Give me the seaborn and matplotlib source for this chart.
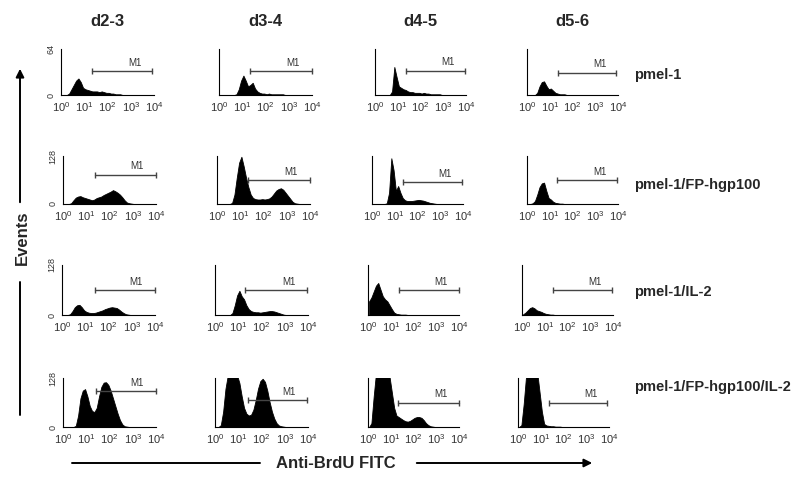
import numpy as np
import matplotlib
matplotlib.use("Agg")
from matplotlib import pyplot as plt
import seaborn as sns

# Column / row headers
DAYS = ["d2-3", "d3-4", "d4-5", "d5-6"]
GROUPS = ["pmel-1", "pmel-1/FP-hgp100", "pmel-1/IL-2", "pmel-1/FP-hgp100/IL-2"]
Y_MAX = [64, 128, 128, 128]
X_TICK_LABELS = [r"$\mathregular{10^{0}}$", r"$\mathregular{10^{1}}$", r"$\mathregular{10^{2}}$",
                 r"$\mathregular{10^{3}}$", r"$\mathregular{10^{4}}$"]

# Histogram counts, 40 bins of 0.1 decade from 10^0 to 10^4
pmel1_d23 = [0, 0, 0, 2, 8, 14, 20, 23, 18, 10, 8, 7, 6, 5, 5, 5, 4, 5, 4, 3,
             3, 2, 2, 1, 1, 1, 0, 0, 0, 0, 0, 0, 0, 0, 0, 0, 0, 0, 0, 0]
pmel1_d34 = [0, 0, 0, 0, 0, 0, 0, 1, 8, 20, 27, 20, 12, 14, 17, 9, 5, 3, 2, 2,
             1, 2, 1, 1, 1, 1, 1, 1, 0, 0, 0, 0, 0, 0, 0, 0, 0, 0, 0, 0]
pmel1_d45 = [0, 0, 0, 0, 0, 0, 0, 5, 39, 25, 12, 10, 8, 7, 5, 4, 4, 3, 3, 3,
             2, 3, 2, 2, 1, 1, 1, 1, 1, 0, 0, 0, 0, 0, 0, 0, 0, 0, 0, 0]
pmel1_d56 = [0, 0, 0, 0, 3, 12, 18, 19, 13, 8, 9, 6, 3, 2, 1, 1, 1, 0, 0, 0,
             0, 0, 0, 0, 0, 0, 0, 0, 0, 0, 0, 0, 0, 0, 0, 0, 0, 0, 0, 0]

fp_d23 = [0, 0, 0, 2, 10, 17, 20, 21, 18, 16, 14, 12, 10, 12, 16, 18, 20, 24, 27, 30,
          33, 37, 34, 30, 25, 18, 10, 4, 2, 1, 0, 0, 0, 0, 0, 0, 0, 0, 0, 0]
fp_d34 = [0, 0, 0, 0, 0, 0, 3, 25, 70, 110, 126, 100, 70, 45, 25, 16, 13, 12, 12, 13,
          12, 13, 15, 20, 28, 36, 40, 42, 38, 30, 22, 14, 6, 2, 1, 0, 0, 0, 0, 0]
fp_d45 = [0, 0, 0, 0, 0, 0, 2, 30, 122, 90, 35, 48, 30, 16, 10, 8, 8, 8, 9, 10,
          11, 10, 9, 7, 5, 3, 2, 1, 0, 0, 0, 0, 0, 0, 0, 0, 0, 0, 0, 0]
fp_d56 = [0, 0, 2, 8, 25, 45, 55, 57, 35, 16, 12, 6, 3, 2, 1, 1, 0, 0, 0, 0,
          0, 0, 0, 0, 0, 0, 0, 0, 0, 0, 0, 0, 0, 0, 0, 0, 0, 0, 0, 0]

il2_d23 = [0, 0, 0, 2, 10, 20, 25, 26, 20, 12, 8, 6, 5, 5, 6, 8, 10, 12, 15, 17,
           19, 20, 19, 18, 14, 9, 5, 2, 1, 0, 0, 0, 0, 0, 0, 0, 0, 0, 0, 0]
il2_d34 = [0, 0, 0, 0, 0, 0, 0, 5, 25, 50, 62, 48, 40, 25, 15, 10, 8, 7, 7, 6,
           7, 8, 9, 10, 10, 9, 7, 5, 3, 1, 0, 0, 0, 0, 0, 0, 0, 0, 0, 0]
il2_d45 = [35, 45, 60, 75, 82, 65, 48, 40, 35, 25, 15, 6, 3, 2, 1, 1, 1, 0, 0, 0,
           0, 0, 0, 0, 0, 0, 0, 0, 0, 0, 0, 0, 0, 0, 0, 0, 0, 0, 0, 0]
il2_d56 = [2, 6, 12, 18, 20, 17, 12, 10, 8, 5, 3, 2, 1, 1, 0, 0, 0, 0, 0, 0,
           0, 0, 0, 0, 0, 0, 0, 0, 0, 0, 0, 0, 0, 0, 0, 0, 0, 0, 0, 0]

both_d23 = [0, 0, 0, 0, 0, 3, 30, 75, 95, 99, 80, 55, 42, 39, 50, 80, 105, 116, 117, 110,
            95, 75, 55, 35, 18, 7, 2, 1, 0, 0, 0, 0, 0, 0, 0, 0, 0, 0, 0, 0]
both_d34 = [0, 0, 5, 40, 100, 135, 140, 140, 140, 135, 115, 80, 50, 35, 30, 32, 45, 70, 100, 120,
            126, 118, 95, 65, 40, 22, 10, 4, 2, 1, 0, 0, 0, 0, 0, 0, 0, 0, 0, 0]
both_d45 = [0, 10, 80, 140, 140, 140, 140, 140, 140, 130, 90, 50, 30, 26, 22, 18, 15, 14, 16, 20,
            24, 26, 26, 24, 18, 10, 5, 2, 1, 0, 0, 0, 0, 0, 0, 0, 0, 0, 0, 0]
both_d56 = [0, 5, 60, 130, 140, 140, 140, 140, 140, 90, 40, 8, 4, 3, 2, 2, 1, 1, 1, 0,
            0, 0, 0, 0, 0, 0, 0, 0, 0, 0, 0, 0, 0, 0, 0, 0, 0, 0, 0, 0]

HISTS = [
    [pmel1_d23, pmel1_d34, pmel1_d45, pmel1_d56],
    [fp_d23, fp_d34, fp_d45, fp_d56],
    [il2_d23, il2_d34, il2_d45, il2_d56],
    [both_d23, both_d34, both_d45, both_d56],
]

# M1 gate: start / end (log10) and height (counts)
GATE_START = [[1.33, 1.33, 1.35, 1.35], [1.39, 1.33, 1.35, 1.3], [1.4, 1.3, 1.36, 1.35], [1.44, 1.4, 1.3, 1.35]]
GATE_END = [[3.9, 4.0, 3.96, 3.9], [4.0, 4.0, 3.95, 3.95], [4.0, 3.95, 4.0, 3.95], [4.0, 3.95, 4.0, 3.9]]
GATE_Y = [[33, 33, 34, 31], [78, 63, 58, 63], [64, 64, 64, 64], [93, 70, 63, 63]]

# Panel layout in pixels (800 x 487 figure)
W, H = 800, 487
LEFTS = [[61, 219, 375, 527], [63, 217, 372, 527], [62, 215, 368, 522], [63, 215, 368, 518]]
WIDTHS = [93, 93, 91, 91]
TOPS = [49, 156, 265, 378]
BOTTOMS = [95, 204, 315, 427]

sns.set_style("white")
plt.rcParams["font.family"] = ["Liberation Sans", "DejaVu Sans"]
plt.rcParams["mathtext.fontset"] = "custom"
plt.rcParams["mathtext.rm"] = "Liberation Sans"

fig = plt.figure(figsize=(W / 100, H / 100), dpi=100)

centers = np.arange(40) * 0.1 + 0.05

for r in range(4):
    for c in range(4):
        x0 = LEFTS[r][c] / W
        y0 = 1 - BOTTOMS[r] / H
        ax = fig.add_axes([x0, y0, WIDTHS[c] / W, (BOTTOMS[r] - TOPS[r]) / H])
        sns.histplot(x=centers, weights=HISTS[r][c], bins=40, binrange=(0, 4),
                     element="poly", fill=True, color="black", alpha=1,
                     linewidth=0.6, ax=ax)
        ymax = Y_MAX[r]
        ax.set_xlim(0, 4)
        ax.set_ylim(0, ymax)
        ax.set(xlabel=None, ylabel=None)
        ax.set_xticks(range(5))
        ax.set_xticklabels(X_TICK_LABELS, fontsize=8, color="#333333")
        ax.set_yticks(np.linspace(0, ymax, 5))
        if c == 0:
            ax.set_yticklabels(["0", "", "", "", str(ymax)], rotation=90,
                               va="center", fontsize=6.5, color="#333333")
        else:
            ax.set_yticklabels([])
        ax.tick_params(axis="both", length=2.5, width=0.7, pad=1.5, colors="#333333")
        sns.despine(ax=ax)
        for s in ["left", "bottom"]:
            ax.spines[s].set_linewidth(0.8)
            ax.spines[s].set_color("black")

        # M1 gate
        gs, ge, gy = GATE_START[r][c], GATE_END[r][c], GATE_Y[r][c]
        ax.plot([gs, ge], [gy, gy], color="#444444", lw=1.0, marker="|",
                markersize=5, markeredgewidth=1.0, clip_on=False)
        ax.annotate("M1", xy=(3.2, gy), xytext=(0, 2.5), textcoords="offset points",
                    ha="center", va="bottom", fontsize=7, color="#333333")

# Column titles
for c, d in enumerate(DAYS):
    xc = (LEFTS[0][c] + WIDTHS[c] / 2) / W
    fig.text(xc, 1 - 22 / H, d, ha="center", va="center", fontsize=12, fontweight="bold")

# Row labels
for r, g in enumerate(GROUPS):
    ym = [75, 185, 292, 387][r]
    fig.text(634 / W, 1 - ym / H, g, ha="left", va="center", fontsize=10.5, fontweight="bold")

# Events arrow (vertical)
fig.add_artist(matplotlib.patches.FancyArrowPatch(
    (20 / W, 1 - 205 / H), (20 / W, 1 - 66 / H), transform=fig.transFigure,
    arrowstyle="-|>", mutation_scale=12, lw=1.4, color="black"))
fig.add_artist(matplotlib.lines.Line2D([20 / W, 20 / W], [1 - 282 / H, 1 - 415 / H],
                                       transform=fig.transFigure, lw=1.4, color="black"))
fig.text(22 / W, 1 - 238 / H, "Events", rotation=90, ha="center", va="center",
         fontsize=12, fontweight="bold")

# Anti-BrdU FITC arrow (horizontal)
fig.add_artist(matplotlib.lines.Line2D([72 / W, 260 / W], [1 - 463 / H, 1 - 463 / H],
                                       transform=fig.transFigure, lw=1.4, color="black"))
fig.add_artist(matplotlib.patches.FancyArrowPatch(
    (414 / W, 1 - 463 / H), (595 / W, 1 - 463 / H), transform=fig.transFigure,
    arrowstyle="-|>", mutation_scale=12, lw=1.4, color="black"))
fig.text(336 / W, 1 - 463 / H, "Anti-BrdU FITC", ha="center", va="center",
         fontsize=12, fontweight="bold")

plt.savefig("out.png", dpi=100)
